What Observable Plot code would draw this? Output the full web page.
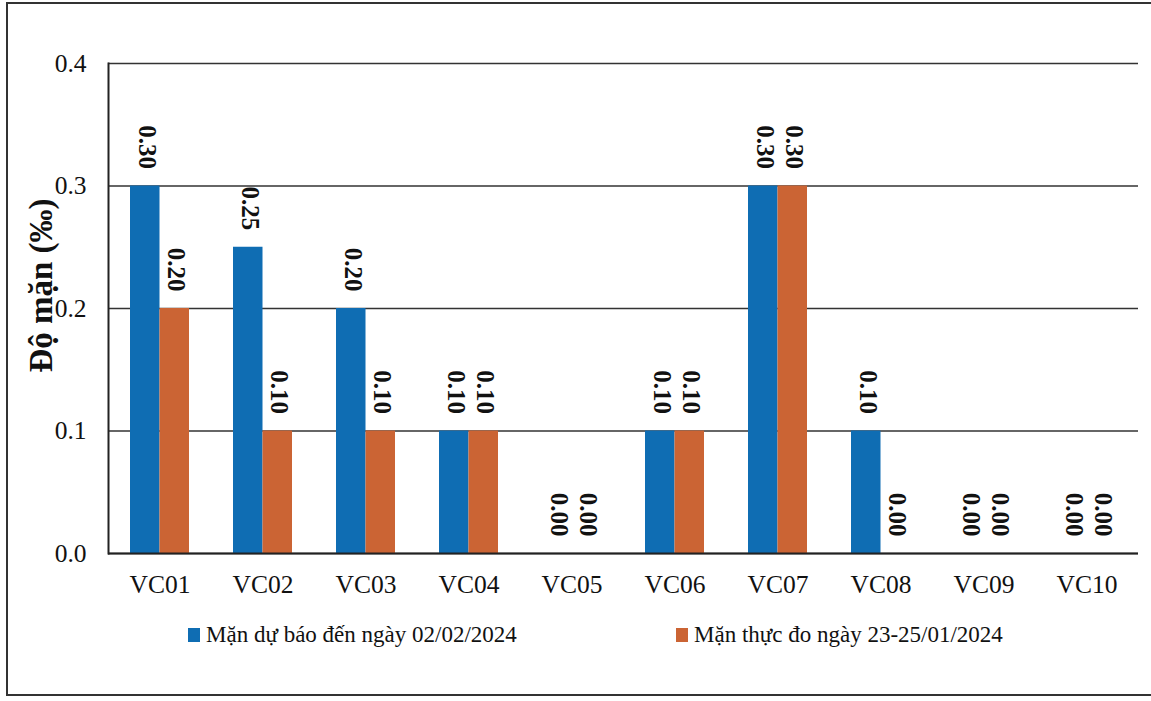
<!DOCTYPE html>
<html><head><meta charset="utf-8">
<script src="https://cdn.jsdelivr.net/npm/d3@7"></script>
<script src="https://cdn.jsdelivr.net/npm/@observablehq/plot@0.6"></script>
<style>
html,body{margin:0;padding:0;background:#fff;}
#wrap{position:relative;width:1151px;height:701px;overflow:hidden;font-family:"Liberation Serif","Times New Roman",serif;background:#fff;}
#frame{position:absolute;left:6px;top:2px;width:1160px;height:694px;border:2px solid #333;box-sizing:border-box;pointer-events:none}
#chart{position:absolute;left:0;top:0}
.leg{position:absolute;top:620px;height:30px;display:flex;align-items:center;font-size:23px;color:#111;white-space:nowrap}
.sw{width:12px;height:14px;margin-right:6px}
</style></head>
<body><div id="wrap"><div id="chart"></div><div id="legend"></div><div id="frame"></div></div>
<script>
const stations = ["VC01","VC02","VC03","VC04","VC05","VC06","VC07","VC08","VC09","VC10"];
const forecast = [0.30,0.25,0.20,0.10,0.00,0.10,0.30,0.10,0.00,0.00];
const measured = [0.20,0.10,0.10,0.10,0.00,0.10,0.30,0.00,0.00,0.00];
const seriesNames = ["Mặn dự báo đến ngày 02/02/2024","Mặn thực đo ngày 23-25/01/2024"];
const seriesColors = ["#0f6db3","#cb6434"];
const yTicks = [0,0.1,0.2,0.3,0.4];
const yTitle = "Độ mặn (‰)";

const rows = stations.map((s,i)=>({station:s, forecast:forecast[i], measured:measured[i]}));
const font = '"Liberation Serif","Times New Roman",serif';

const chart = Plot.plot({
  width:1151, height:600,
  marginLeft:108, marginRight:13, marginTop:63, marginBottom:47,
  style:{fontFamily:font, fontSize:"25.5px", color:"#111", background:"transparent"},
  x:{domain:stations, padding:0, label:null, tickSize:0, tickPadding:21},
  y:{domain:[0,0.4], ticks:yTicks, tickFormat:".1f", label:null, tickSize:0, tickPadding:22},
  marks:[
    Plot.ruleY(yTicks, {stroke:"#333", strokeWidth:1.5}),
    Plot.barY(rows, {x:"station", y:"forecast", fill:seriesColors[0], insetLeft:22, insetRight:51.5}),
    Plot.barY(rows, {x:"station", y:"measured", fill:seriesColors[1], insetLeft:51.5, insetRight:22}),
    Plot.ruleY([0], {stroke:"#222", strokeWidth:2}),
    Plot.frame({anchor:"left", stroke:"#222", strokeWidth:2}),
    Plot.text(rows, {x:"station", y:"forecast", text:d=>d.forecast.toFixed(2), rotate:90, textAnchor:"end", dx:-13, dy:-17, fontWeight:"bold", fontSize:25, fill:"#111"}),
    Plot.text(rows, {x:"station", y:"measured", text:d=>d.measured.toFixed(2), rotate:90, textAnchor:"end", dx:16, dy:-17, fontWeight:"bold", fontSize:25, fill:"#111"}),
    Plot.text([yTitle], {text:d=>d, frameAnchor:"left", textAnchor:"middle", rotate:-90, dx:-67, dy:-23, fontWeight:"bold", fontSize:33, fill:"#111"})
  ]
});
document.getElementById("chart").appendChild(chart);

const legend = document.getElementById("legend");
const legendLeft = [188, 676];
seriesNames.forEach((name,i)=>{
  const item = document.createElement("div");
  item.className = "leg";
  item.style.left = legendLeft[i] + "px";
  const sw = document.createElement("span");
  sw.className = "sw";
  sw.style.background = seriesColors[i];
  const t = document.createElement("span");
  t.textContent = name;
  item.appendChild(sw); item.appendChild(t);
  legend.appendChild(item);
});
</script>
</body></html>
